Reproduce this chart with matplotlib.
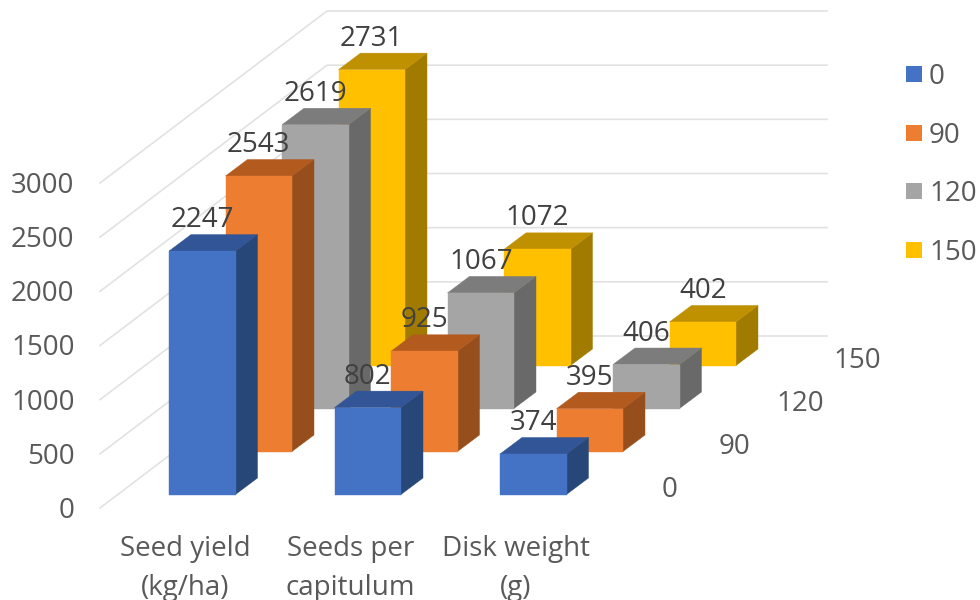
import matplotlib
matplotlib.use('Agg')
import matplotlib.pyplot as plt
from matplotlib.patches import Polygon, Rectangle

plt.rcParams['font.family'] = ['Open Sans', 'DejaVu Sans']

# data
categories = ['Seed yield\n(kg/ha)', 'Seeds per\ncapitulum', 'Disk weight\n(g)']
series_names = ['0', '90', '120', '150']
yield_vals = [2247, 2543, 2619, 2731]
seeds_vals = [802, 925, 1067, 1072]
disk_vals = [374, 395, 406, 402]
y_ticks = [0, 500, 1000, 1500, 2000, 2500, 3000]

values = [yield_vals, seeds_vals, disk_vals]

# front / top / side shades per series
front_cols = ['#4472C4', '#ED7D31', '#A5A5A5', '#FFC000']
top_cols = ['#315596', '#B35A1F', '#7C7C7C', '#BF9000']
side_cols = ['#284779', '#964F1C', '#696969', '#A17A00']

# oblique projection settings
px_per_unit = 54.17 / 500
x_start, y_start = 169, 494.5   # front-left foot of the first bar
cat_step = 165.5
ser_step = (56.5, -43)
bar_w = 66.5
bar_depth = (22, -16.5)
grid_front = (100, 508)
grid_back = (327, 336)
grid_right = 827
text_col = '#595959'
label_col = '#404040'
fs = 20
text_dy = 3     # Open Sans sits a little high when centred


def foot(cat, ser):
    return x_start + cat * cat_step + ser * ser_step[0], y_start + ser * ser_step[1]


fig = plt.figure(figsize=(9.8, 6), dpi=100)
ax = fig.add_axes([0, 0, 1, 1])
ax.set_xlim(0, 980)
ax.set_ylim(600, 0)
ax.axis('off')

# walls: slanted side wall plus back wall
for t in y_ticks:
    dy = t * px_per_unit
    ax.plot([grid_front[0], grid_back[0], grid_right],
            [grid_front[1] - dy, grid_back[1] - dy, grid_back[1] - dy],
            color='#E2E2E2', lw=1.2, solid_joinstyle='miter', zorder=1)
    ax.text(74.5, grid_front[1] - dy + text_dy, str(t), ha='right', va='center',
            fontsize=fs, color=text_col, zorder=20)

# back series first so nearer bars cover them
z = 2
for s in range(len(series_names) - 1, -1, -1):
    for c in range(len(categories)):
        v = values[c][s]
        x0, y0 = foot(c, s)
        h = v * px_per_unit
        x1 = x0 + bar_w
        top = y0 - h
        dx, dy = bar_depth
        ax.add_patch(Polygon([(x1, y0), (x1 + dx, y0 + dy), (x1 + dx, top + dy), (x1, top)],
                             fc=side_cols[s], ec=side_cols[s], lw=0.3, zorder=z))
        ax.add_patch(Polygon([(x0, top), (x1, top), (x1 + dx, top + dy), (x0 + dx, top + dy)],
                             fc=top_cols[s], ec=top_cols[s], lw=0.3, zorder=z))
        ax.add_patch(Rectangle((x0, top), bar_w, h, fc=front_cols[s], ec=front_cols[s],
                               lw=0.3, zorder=z + 0.5))
        # value labels sit above everything
        ax.text(x0 + bar_w / 2, top - 34 + text_dy, str(v), ha='center', va='center',
                fontsize=fs, color=label_col, zorder=20)
    z += 1

# category labels under the front edge
for c, name in enumerate(categories):
    ax.text(foot(c, 0)[0] + 16, 568.5, name, ha='center', va='center', fontsize=fs,
            color=text_col, linespacing=1.5, zorder=20)

# depth axis labels
for s, name in enumerate(series_names):
    ax.text(662 + s * 57, 487 - s * 43 + text_dy, name, ha='left', va='center',
            fontsize=fs, color=text_col, zorder=20)

# legend
for s, name in enumerate(series_names):
    yc = 74 + s * 58.7
    ax.add_patch(Rectangle((906, yc - 8), 16, 16, fc=front_cols[s], ec='none', zorder=5))
    ax.text(929, yc + text_dy, name, ha='left', va='center', fontsize=fs, color=text_col, zorder=20)

fig.savefig('out.png', dpi=100)
